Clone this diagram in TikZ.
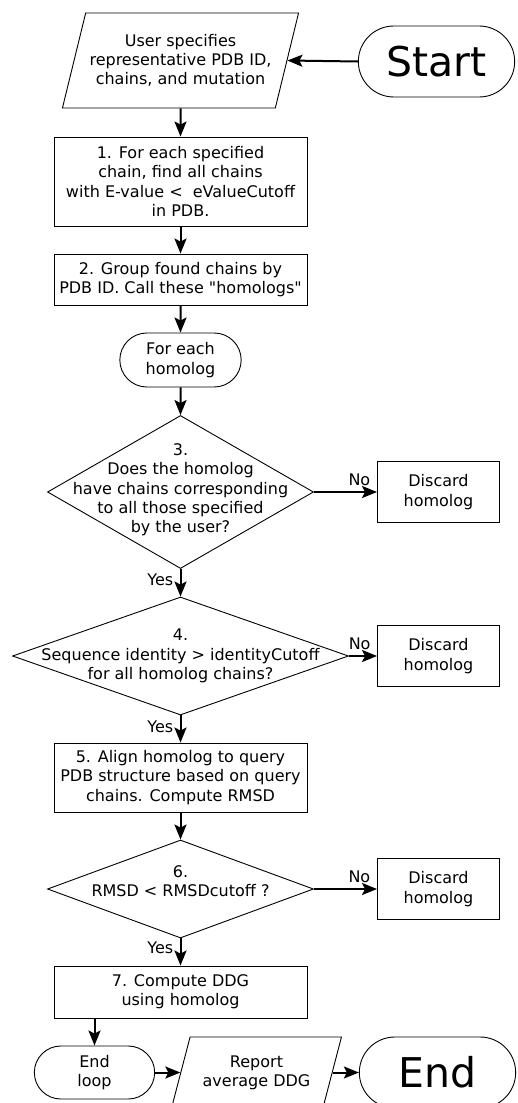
\documentclass[tikz,border=0pt]{standalone}
\usepackage{fontspec}
\setmainfont{DejaVu Sans}
\usetikzlibrary{shapes.geometric, shapes.misc, arrows.meta}
\tikzstyle{startstop} = [rounded rectangle, minimum width=128pt, minimum height=54pt, align=center, draw=black, line width=0.9pt]
\tikzstyle{io} = [trapezium, trapezium left angle=68.7, trapezium right angle=111.3, trapezium stretches=true, minimum width=237pt, minimum height=95pt, align=center, draw=black, line width=0.9pt]
\tikzstyle{process} = [rectangle, minimum width=253pt, align=center, draw=black, line width=0.9pt]
\tikzstyle{decision} = [diamond, inner sep=0pt, draw=black, line width=0.9pt]
\tikzstyle{discard} = [rectangle, minimum width=122pt, minimum height=61pt, align=center, draw=black, line width=0.9pt]
\tikzstyle{bigtext} = [font=\fontsize{41}{48}\selectfont]
\tikzstyle{arrow} = [line width=2pt, -{Stealth[length=15pt,width=12pt,inset=3pt]}]

\begin{document}
\begin{tikzpicture}[x=1pt, y=1pt, node distance=100pt, font=\fontsize{16}{19.3}\selectfont]
    \useasboundingbox (0,0) rectangle (518,-1103);

    \node (userinput) [io] at (180.5,-60.5) {User specifies\\representative PDB ID,\\chains, and mutation};
    \node (start) [startstop, bigtext, minimum width=163pt, minimum height=71pt, right of=userinput, xshift=156pt, yshift=-1pt] {Start};
    \node (findchains) [process, minimum height=89pt, below of=userinput, yshift=-21pt] {1. For each specified\\chain, find all chains\\with E-value <\ \ eValueCutoff\\in PDB.};
    \node (groupchains) [process, minimum height=51pt, below of=findchains, yshift=2pt] {2. Group found chains by\\PDB ID. Call these \textquotedbl homologs\textquotedbl};
    \node (foreach) [startstop, below of=groupchains, yshift=19.5pt] {For each\\homolog};
    \node (haschains) [decision, minimum width=266pt, minimum height=153pt, below of=foreach, yshift=-32pt,
        label={[align=center, yshift=2pt]center:{3.\\Does the homolog\\have chains corresponding\\to all those specified\\by the user?}}] {};
    \node (identity) [decision, minimum width=336pt, minimum height=118pt, below of=haschains, yshift=-64pt,
        label={[align=center]center:{4.\\Sequence identity > identityCutoff\\for all homolog chains?}}] {};
    \node (align) [process, minimum height=69pt, below of=identity, yshift=-21.5pt] {5. Align homolog to query\\PDB structure based on query\\chains. Compute RMSD};
    \node (rmsd) [decision, minimum width=266pt, minimum height=98pt, below of=align, yshift=-11.5pt,
        label={[align=center, yshift=7.5pt]center:{6.\\RMSD < RMSDcutoff ?}}] {};
    \node (computeddg) [process, minimum height=52pt, below of=rmsd, yshift=-3pt] {7. Compute DDG\\using homolog};
    \node (endloop) [startstop, minimum width=127pt, minimum height=53pt, below of=computeddg, xshift=-86pt, yshift=19.5pt] {End\\loop};
    \node (report) [io, minimum width=170pt, minimum height=71pt, right of=endloop, xshift=62pt] {Report\\average DDG};
    \node (end) [startstop, bigtext, minimum width=163pt, minimum height=71pt, right of=report, xshift=81pt] {End};

    \node (discard1) [discard, right of=haschains, xshift=158pt] {Discard\\homolog};
    \node (discard2) [discard, right of=identity, xshift=158pt] {Discard\\homolog};
    \node (discard3) [discard, right of=rmsd, xshift=158pt] {Discard\\homolog};

    \draw [arrow] (start.west) -- (userinput.east);
    \draw [arrow] (userinput) -- (findchains);
    \draw [arrow] (findchains) -- (groupchains);
    \draw [arrow] (groupchains) -- (foreach);
    \draw [arrow] (foreach) -- (haschains);
    \draw [arrow] (haschains) -- node[left=3pt, pos=0.4] {Yes} (identity);
    \draw [arrow] (identity) -- node[left=3pt, pos=0.43] {Yes} (align);
    \draw [arrow] (align) -- (rmsd);
    \draw [arrow] (rmsd) -- node[left=3pt, pos=0.36] {Yes} (computeddg);
    \draw [arrow] (computeddg.south -| endloop.north) -- (endloop.north);
    \draw [arrow] (endloop.east) -- (report.west);
    \draw [arrow] (report.east) -- (end.west);

    \draw [arrow] (haschains.east) -- node[above=2pt, pos=0.72] {No} (discard1.west);
    \draw [arrow] (identity.east) -- node[above=2pt, pos=0.38] {No} (discard2.west);
    \draw [arrow] (rmsd.east) -- node[above=2pt, pos=0.72] {No} (discard3.west);

\end{tikzpicture}
\end{document}
